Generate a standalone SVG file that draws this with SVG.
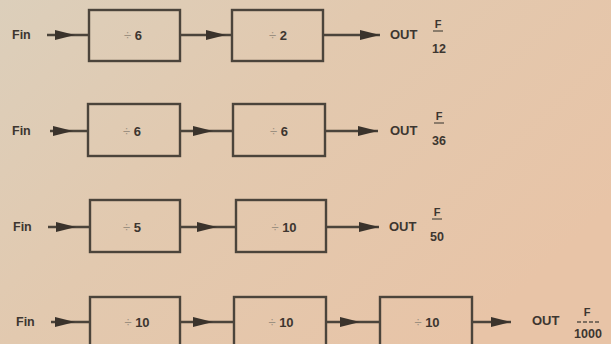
<svg xmlns="http://www.w3.org/2000/svg" width="611" height="344" viewBox="0 0 611 344">
<defs>
<linearGradient id="bg" x1="0" y1="0" x2="1" y2="0.6">
<stop offset="0" stop-color="#dccfbb"/>
<stop offset="0.45" stop-color="#e2c9af"/>
<stop offset="1" stop-color="#e8c4a7"/>
</linearGradient>
<marker id="ah" markerUnits="userSpaceOnUse" markerWidth="22" markerHeight="14" refX="20" refY="7" orient="auto">
<path d="M0 2 L20 7 L0 12 Z" fill="#3a332c"/>
</marker>
<style>
.box{fill:none;stroke:#4b443b;stroke-width:2.4}
.ln{fill:none;stroke:#4b443b;stroke-width:2.4}
.mid{marker-mid:url(#ah)}
.end{marker-end:url(#ah)}
text{font-family:"Liberation Sans","DejaVu Sans",sans-serif;font-weight:bold;fill:#3d3630}
.lb{font-size:12.5px}
.dv{font-size:13px;text-anchor:middle}
.dv tspan.d{fill:#9c9080;font-weight:normal}
.out{font-size:13px}
.fr{font-size:11px;text-anchor:middle}
.bar{stroke:#5a5248;stroke-width:1.3}
</style>
</defs>
<rect width="611" height="344" fill="url(#bg)"/>
<g id="connectors">
<path class="ln mid" d="M47 35 L75 35 L89 35"/>
<path class="ln mid" d="M180 35 L226 35 L232 35"/>
<path class="ln end" d="M323 35 L380 35"/>
<path class="ln mid" d="M50 131 L73 131 L88 131"/>
<path class="ln mid" d="M180 131 L213 131 L233 131"/>
<path class="ln end" d="M325 131 L378 131"/>
<path class="ln mid" d="M48 227 L76 227 L90 227"/>
<path class="ln mid" d="M180 227 L217 227 L236 227"/>
<path class="ln end" d="M326 227 L379 227"/>
<path class="ln mid" d="M51 322 L75 322 L90 322"/>
<path class="ln mid" d="M180 322 L213 322 L234 322"/>
<path class="ln mid" d="M326 322 L360 322 L380 322"/>
<path class="ln end" d="M472 322 L511 322"/>
</g>
<g id="fin1"><text class="lb" x="12" y="39">Fin</text></g>
<g id="fin2"><text class="lb" x="12" y="135">Fin</text></g>
<g id="fin3"><text class="lb" x="13" y="231">Fin</text></g>
<g id="fin4"><text class="lb" x="16" y="326">Fin</text></g>
<g id="r1b1"><rect class="box" x="89" y="10" width="91" height="51"/><text class="dv" x="133" y="40"><tspan class="d">÷</tspan> 6</text></g>
<g id="r1b2"><rect class="box" x="232" y="10" width="91" height="51"/><text class="dv" x="278" y="40"><tspan class="d">÷</tspan> 2</text></g>
<g id="r2b1"><rect class="box" x="88" y="104" width="92" height="52"/><text class="dv" x="132" y="136"><tspan class="d">÷</tspan> 6</text></g>
<g id="r2b2"><rect class="box" x="233" y="104" width="92" height="52"/><text class="dv" x="279" y="136"><tspan class="d">÷</tspan> 6</text></g>
<g id="r3b1"><rect class="box" x="90" y="200" width="90" height="52"/><text class="dv" x="132" y="232"><tspan class="d">÷</tspan> 5</text></g>
<g id="r3b2"><rect class="box" x="236" y="200" width="90" height="52"/><text class="dv" x="284" y="232"><tspan class="d">÷</tspan> 10</text></g>
<g id="r4b1"><rect class="box" x="90" y="297" width="90" height="52"/><text class="dv" x="137" y="327"><tspan class="d">÷</tspan> 10</text></g>
<g id="r4b2"><rect class="box" x="234" y="297" width="92" height="52"/><text class="dv" x="281" y="327"><tspan class="d">÷</tspan> 10</text></g>
<g id="r4b3"><rect class="box" x="380" y="297" width="92" height="52"/><text class="dv" x="427" y="327"><tspan class="d">÷</tspan> 10</text></g>
<g id="out1"><text class="out" x="390" y="39">OUT</text><text class="fr" x="438" y="28">F</text><line class="bar" x1="433" y1="31" x2="443" y2="31"/><text class="fr" x="439" y="53" style="font-size:12.5px">12</text></g>
<g id="out2"><text class="out" x="390" y="135">OUT</text><text class="fr" x="439" y="120">F</text><line class="bar" x1="434" y1="123" x2="444" y2="123"/><text class="fr" x="439" y="145" style="font-size:12.5px">36</text></g>
<g id="out3"><text class="out" x="389" y="231">OUT</text><text class="fr" x="437" y="216">F</text><line class="bar" x1="432" y1="219" x2="442" y2="219"/><text class="fr" x="437" y="241" style="font-size:12.5px">50</text></g>
<g id="out4"><text class="out" x="532" y="325">OUT</text><text class="fr" x="587" y="316">F</text><line class="bar" x1="577" y1="322" x2="599" y2="322" stroke-dasharray="4 2"/><text class="fr" x="588" y="338" style="font-size:12.5px">1000</text></g>
</svg>
